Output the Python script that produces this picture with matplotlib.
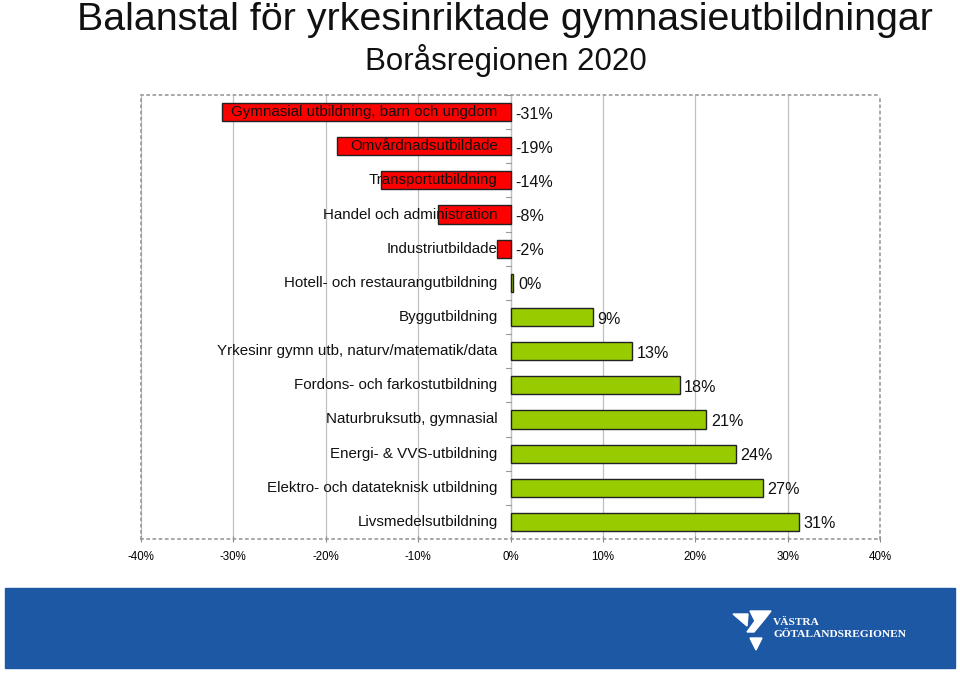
import matplotlib
matplotlib.use("Agg")
import matplotlib.pyplot as plt
from matplotlib.patches import Rectangle, Polygon
import numpy as np

plt.rcParams['font.family'] = ['Liberation Sans', 'DejaVu Sans']

# data
categories = ["Gymnasial utbildning, barn och ungdom", "Omvårdnadsutbildade",
              "Transportutbildning", "Handel och administration", "Industriutbildade",
              "Hotell- och restaurangutbildning", "Byggutbildning",
              "Yrkesinr gymn utb, naturv/matematik/data", "Fordons- och farkostutbildning",
              "Naturbruksutb, gymnasial", "Energi- & VVS-utbildning",
              "Elektro- och datateknisk utbildning", "Livsmedelsutbildning"]
values = [-31.2, -18.8, -14.0, -7.9, -1.5, 0.3, 8.9, 13.2, 18.3, 21.2, 24.4, 27.3, 31.2]
value_labels = ["-31%", "-19%", "-14%", "-8%", "-2%", "0%", "9%", "13%",
                "18%", "21%", "24%", "27%", "31%"]
xticks = [-40, -30, -20, -10, 0, 10, 20, 30, 40]

fig = plt.figure(figsize=(9.6, 6.73), dpi=100)
ax = fig.add_axes([141/960, 1-539/673, (880-141)/960, (539-95)/673])

y = np.arange(len(categories))
colors = ['#ff0000' if v < 0 else '#99cc00' for v in values]
ax.barh(y, values, height=0.53, color=colors, edgecolor='#222222', linewidth=1.0, zorder=3)

ax.set_xlim(-40, 40)
ax.set_ylim(len(categories) - 0.5, -0.5)
ax.set_xticks(xticks)
ax.set_xticklabels([f"{t}%" for t in xticks], fontsize=8.3)
ax.set_yticks([])
ax.tick_params(axis='x', direction='inout', length=5, color='#888888', pad=6)
ax.grid(axis='x', color='#c0c0c0', linewidth=0.9, zorder=0)

for s in ax.spines.values():
    s.set_color('#999999')
    s.set_linestyle((0, (1.2, 2.5)))
    s.set_linewidth(1.2)

# zero axis with small ticks at category boundaries
ax.axvline(0, color='#bbbbbb', linewidth=0.9, zorder=1)
for b in np.arange(-0.5, len(categories), 1.0):
    ax.plot([-0.5, 0], [b, b], color='#999999', linewidth=0.8, zorder=2)

for i, (c, v, lab) in enumerate(zip(categories, values, value_labels)):
    ax.text(-1.4, i, c, ha='right', va='center', fontsize=10.9, color='#111111', zorder=4)
    xv = max(v, 0) + 0.5
    ax.text(xv, i + 0.06, lab, ha='left', va='center', fontsize=11.6, color='#111111', zorder=4)

fig.text(0.526, 0.971, "Balanstal för yrkesinriktade gymnasieutbildningar",
         ha='center', va='center', fontsize=28.4, color='#111111')
fig.text(0.527, 0.910, "Boråsregionen 2020", ha='center', va='center',
         fontsize=22.5, color='#111111')

# blue banner
fig.patches.append(Rectangle((5/960, 1-668/673), 950/960, 80/673,
                             transform=fig.transFigure, color='#1d58a4', zorder=0))

def fp(px, py):
    return (px/960, 1-py/673)

logo = [
    [fp(733, 614), fp(748, 614), fp(747, 626)],
    [fp(750, 611), fp(771, 611), fp(764, 620), fp(754, 632), fp(747, 632), fp(755, 621)],
    [fp(750, 638), fp(762, 638), fp(756, 650)],
]
for tri in logo:
    fig.patches.append(Polygon(tri, closed=True, transform=fig.transFigure,
                               color='white', zorder=1))
fig.text(773/960, 1-622/673, "VÄSTRA", ha='left', va='center', fontsize=8.2,
         color='white', fontweight='bold', family=['Liberation Serif', 'DejaVu Serif'])
fig.text(773/960, 1-634/673, "GÖTALANDSREGIONEN", ha='left', va='center', fontsize=8.2,
         color='white', fontweight='bold', family=['Liberation Serif', 'DejaVu Serif'])

fig.savefig("out.png", dpi=100)
